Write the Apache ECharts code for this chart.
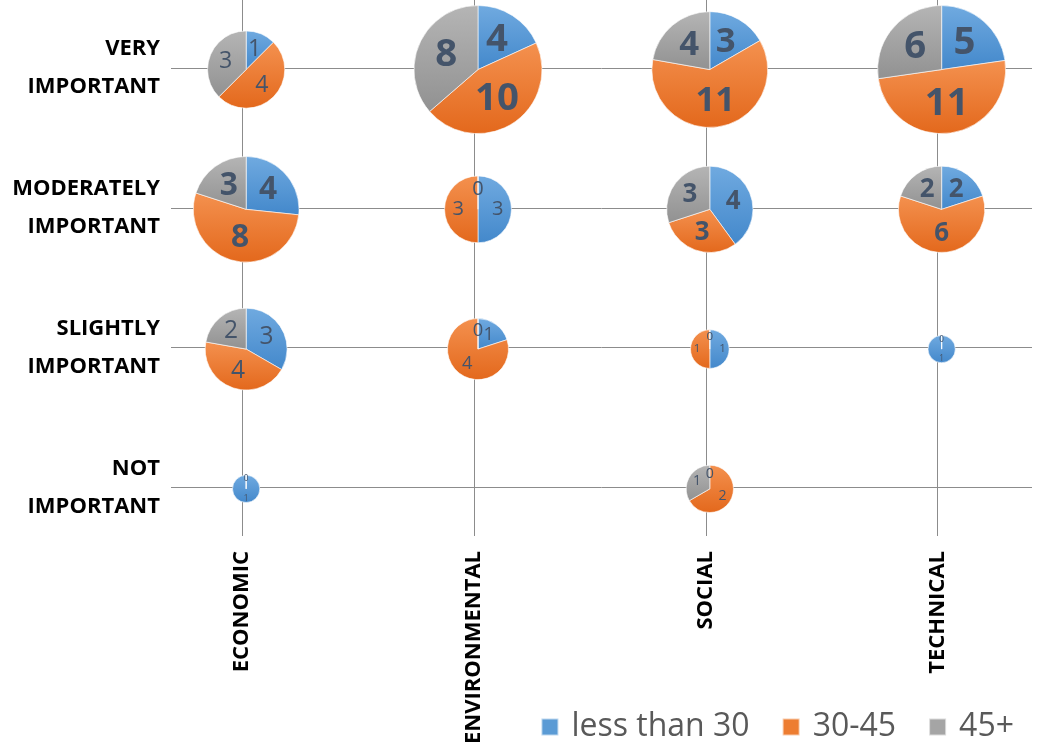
<!DOCTYPE html>
<html><head><meta charset="utf-8">
<script src="https://cdn.jsdelivr.net/npm/echarts@6/dist/echarts.min.js"></script>
<style>html,body{margin:0;padding:0;background:#fff}#c{width:1045px;height:753px}</style>
</head><body><div id="c"></div>
<script>
// Categories
const dimensions = ['ECONOMIC', 'ENVIRONMENTAL', 'SOCIAL', 'TECHNICAL'];
const importance = ['VERY IMPORTANT', 'MODERATELY IMPORTANT', 'SLIGHTLY IMPORTANT', 'NOT IMPORTANT'];
const importanceLabels = ['VERY\nIMPORTANT', 'MODERATELY\nIMPORTANT', 'SLIGHTLY\nIMPORTANT', 'NOT\nIMPORTANT'];
const ageGroups = ['less than 30', '30-45', '45+'];
// Values: rows = importance level, columns = dimension
const lessThan30 = [[1, 4, 3, 5], [4, 3, 4, 2], [3, 1, 1, 1], [1, 0, 0, 0]];
const age30to45  = [[4, 10, 11, 11], [8, 3, 3, 6], [4, 4, 1, 0], [0, 0, 2, 0]];
const age45plus  = [[3, 8, 4, 6], [3, 0, 3, 2], [2, 0, 0, 0], [0, 0, 1, 0]];
const tickValues = [0, 1, 2, 3];

const flatColors = ['#5B9BD5', '#ED7D31', '#A5A5A5'];
const gradStops = [['#70AAE0', '#4388CB'], ['#F4914F', '#E3681C'], ['#B5B5B5', '#919191']];
function grad(k) {
  return new echarts.graphic.LinearGradient(0, 0, 0, 1, [
    { offset: 0, color: gradStops[k][0] }, { offset: 1, color: gradStops[k][1] }]);
}

const chart = echarts.init(document.getElementById('c'), null, { renderer: 'canvas' });
const axisFont = { fontFamily: 'Open Sans', fontWeight: 'bold', fontSize: 22, color: '#000' };
chart.setOption({
  animation: false,
  backgroundColor: '#fff',
  grid: { left: 171, right: 13, top: 0, bottom: 217, containLabel: false },
  xAxis: {
    type: 'value', min: -0.307, max: 3.407,
    axisLine: { show: false },
    axisTick: { show: false, customValues: tickValues },
    axisLabel: Object.assign({ customValues: tickValues, rotate: 90, margin: 15,
      formatter: v => dimensions[Math.round(v)] }, axisFont),
    splitLine: { show: true, lineStyle: { color: '#8C8C8C', width: 1 } }
  },
  yAxis: {
    type: 'value', inverse: true, min: -0.487, max: 3.348,
    axisLine: { show: false },
    axisTick: { show: false, customValues: tickValues },
    axisLabel: Object.assign({ customValues: tickValues, margin: 11, align: 'right', lineHeight: 38,
      padding: [5, 0, 0, 0],
      formatter: v => importanceLabels[Math.round(v)] }, axisFont),
    splitLine: { show: true, lineStyle: { color: '#8C8C8C', width: 1 } }
  }
});

const series = [];
importance.forEach((imp, i) => {
  dimensions.forEach((dim, j) => {
    const vals = [lessThan30[i][j], age30to45[i][j], age45plus[i][j]];
    const total = vals.reduce((a, b) => a + b, 0);
    if (!total) return;
    const p = chart.convertToPixel({ gridIndex: 0 }, [j, i]);
    const r = 13.65 * Math.sqrt(total);
    series.push({
      type: 'pie', name: dim + ' / ' + imp,
      center: [p[0] + 4, p[1] + 1.5], radius: r,
      startAngle: 90, clockwise: true, silent: true,
      label: { show: true, position: 'inside', formatter: '{c}', fontFamily: 'Open Sans',
        fontSize: Math.max(7, 0.6 * r), fontWeight: total >= 10 ? 'bold' : 'normal', color: '#44546A' },
      labelLine: { show: false },
      itemStyle: { borderColor: 'rgba(255,255,255,0.6)', borderWidth: 1 },
      emphasis: { disabled: true },
      data: vals.map((v, k) => ({ name: ageGroups[k], value: v, itemStyle: { color: grad(k) } }))
    });
  });
});

chart.setOption({
  legend: {
    right: 26, top: 706, icon: 'rect', itemWidth: 17, itemHeight: 17, itemGap: 32,
    selectedMode: false,
    textStyle: { fontFamily: 'Open Sans', fontSize: 32, color: '#595959', padding: [0, 0, 0, 8] },
    data: ageGroups.map((n, k) => ({ name: n, itemStyle: { color: flatColors[k] } }))
  },
  series: series
});
</script></body></html>
